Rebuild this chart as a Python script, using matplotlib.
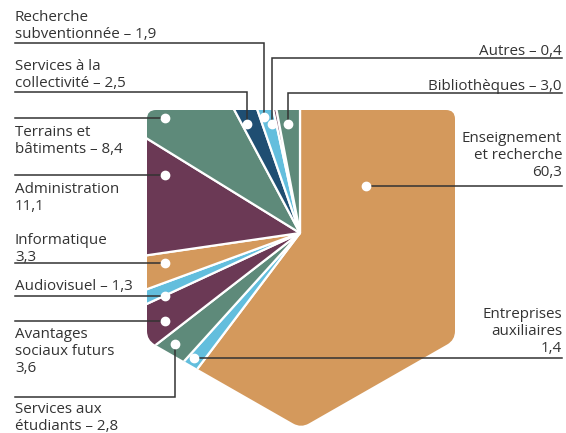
import numpy as np
import matplotlib.pyplot as plt
from matplotlib.path import Path

# Expense breakdown (%), clockwise from 12 o'clock
categories = [
    "Enseignement et recherche", "Entreprises auxiliaires", "Services aux étudiants",
    "Avantages sociaux futurs", "Audiovisuel", "Informatique", "Administration",
    "Terrains et bâtiments", "Services à la collectivité", "Recherche subventionnée",
    "Autres", "Bibliothèques",
]
values = [60.3, 1.4, 2.8, 3.6, 1.3, 3.3, 11.1, 8.4, 2.5, 1.9, 0.4, 3.0]

ORANGE = "#D4995C"
PURPLE = "#6B3955"
GREEN = "#5E8A7A"
LIGHT = "#63BEDD"
NAVY = "#1F4E72"
colors = [ORANGE, LIGHT, GREEN, PURPLE, LIGHT, ORANGE, PURPLE, GREEN, NAVY, LIGHT, PURPLE, GREEN]

W, H = 566, 433
TXT = "#333333"
LINE = "#333333"
LEAD = 17.2  # px between text baselines
plt.rcParams['font.family'] = ['Open Sans', 'DejaVu Sans']


def fmt(v):
    return f"{v:.1f}".replace(".", ",")


def Y(py):
    # pixel row -> data y
    return H - py


def rounded_polygon(pts, r):
    pts = [np.array(p, float) for p in pts]
    n = len(pts)
    verts, codes = [], []
    for i, p in enumerate(pts):
        prev, nxt = pts[i - 1], pts[(i + 1) % n]
        a = p + (prev - p) / np.linalg.norm(prev - p) * r
        b = p + (nxt - p) / np.linalg.norm(nxt - p) * r
        verts.append(a)
        codes.append(Path.MOVETO if i == 0 else Path.LINETO)
        verts += [p, b]
        codes += [Path.CURVE3, Path.CURVE3]
    verts.append(verts[0])
    codes.append(Path.CLOSEPOLY)
    return Path(verts, codes)


fig = plt.figure(figsize=(W / 100, H / 100), dpi=100)
ax = fig.add_axes([0, 0, 1, 1])

center = (300, Y(233))
wedges, _ = ax.pie(values, colors=colors, startangle=90, counterclock=False,
                   center=center, radius=330,
                   wedgeprops=dict(edgecolor="white", linewidth=1.6))

ax.set_xlim(0, W)
ax.set_ylim(0, H)
ax.set_aspect("auto")
ax.axis("off")

# shield-shaped outline that the pie is cut to
shape = rounded_polygon([(147, Y(110)), (455, Y(110)), (455, Y(340)),
                         (301, Y(428)), (147, Y(340))], 9)
for w in wedges:
    w.set_clip_path(shape, ax.transData)
    w.set_clip_on(True)

v = dict(zip(categories, values))

# label lines, x anchor, first baseline, alignment, leader line points (pixel coords)
labels = [
    (["Recherche", f"subventionnée – {fmt(v['Recherche subventionnée'])}"], 15, 21, "left",
     [(15, 43), (264, 43), (264, 117)]),
    (["Services à la", f"collectivité – {fmt(v['Services à la collectivité'])}"], 15, 70, "left",
     [(15, 92), (247, 92), (247, 124)]),
    (["Terrains et", f"bâtiments – {fmt(v['Terrains et bâtiments'])}"], 15, 136, "left",
     [(15, 118), (165, 118)]),
    (["Administration", fmt(v['Administration'])], 15, 193, "left",
     [(15, 175), (165, 175)]),
    (["Informatique", fmt(v['Informatique'])], 15, 244, "left",
     [(15, 263), (165, 263)]),
    ([f"Audiovisuel – {fmt(v['Audiovisuel'])}"], 15, 290, "left",
     [(15, 296), (165, 296)]),
    (["Avantages", "sociaux futurs", fmt(v['Avantages sociaux futurs'])], 15, 338, "left",
     [(15, 321), (165, 321)]),
    (["Services aux", f"étudiants – {fmt(v['Services aux étudiants'])}"], 15, 413, "left",
     [(15, 397), (175, 397), (175, 344)]),
    ([f"Autres – {fmt(v['Autres'])}"], 562, 55, "right",
     [(562, 58), (272, 58), (272, 124)]),
    ([f"Bibliothèques – {fmt(v['Bibliothèques'])}"], 562, 90, "right",
     [(562, 93), (288, 93), (288, 124)]),
    (["Enseignement", "et recherche", fmt(v['Enseignement et recherche'])], 562, 142, "right",
     [(562, 186), (366, 186)]),
    (["Entreprises", "auxiliaires", fmt(v['Entreprises auxiliaires'])], 562, 318, "right",
     [(562, 358), (194, 358)]),
]

for lines, tx, base, ha, pts in labels:
    for k, line in enumerate(lines):
        ax.text(tx, Y(base + k * LEAD), line, ha=ha, va="baseline",
                fontsize=10.9, color=TXT)
    xs = [p[0] for p in pts]
    ys = [Y(p[1]) for p in pts]
    ax.plot(xs, ys, color=LINE, lw=1.1, solid_joinstyle="miter", zorder=3)
    ax.plot(xs[-1], ys[-1], "o", ms=6, mfc="white", mec="white", zorder=4)

fig.savefig("out.png", dpi=100)
